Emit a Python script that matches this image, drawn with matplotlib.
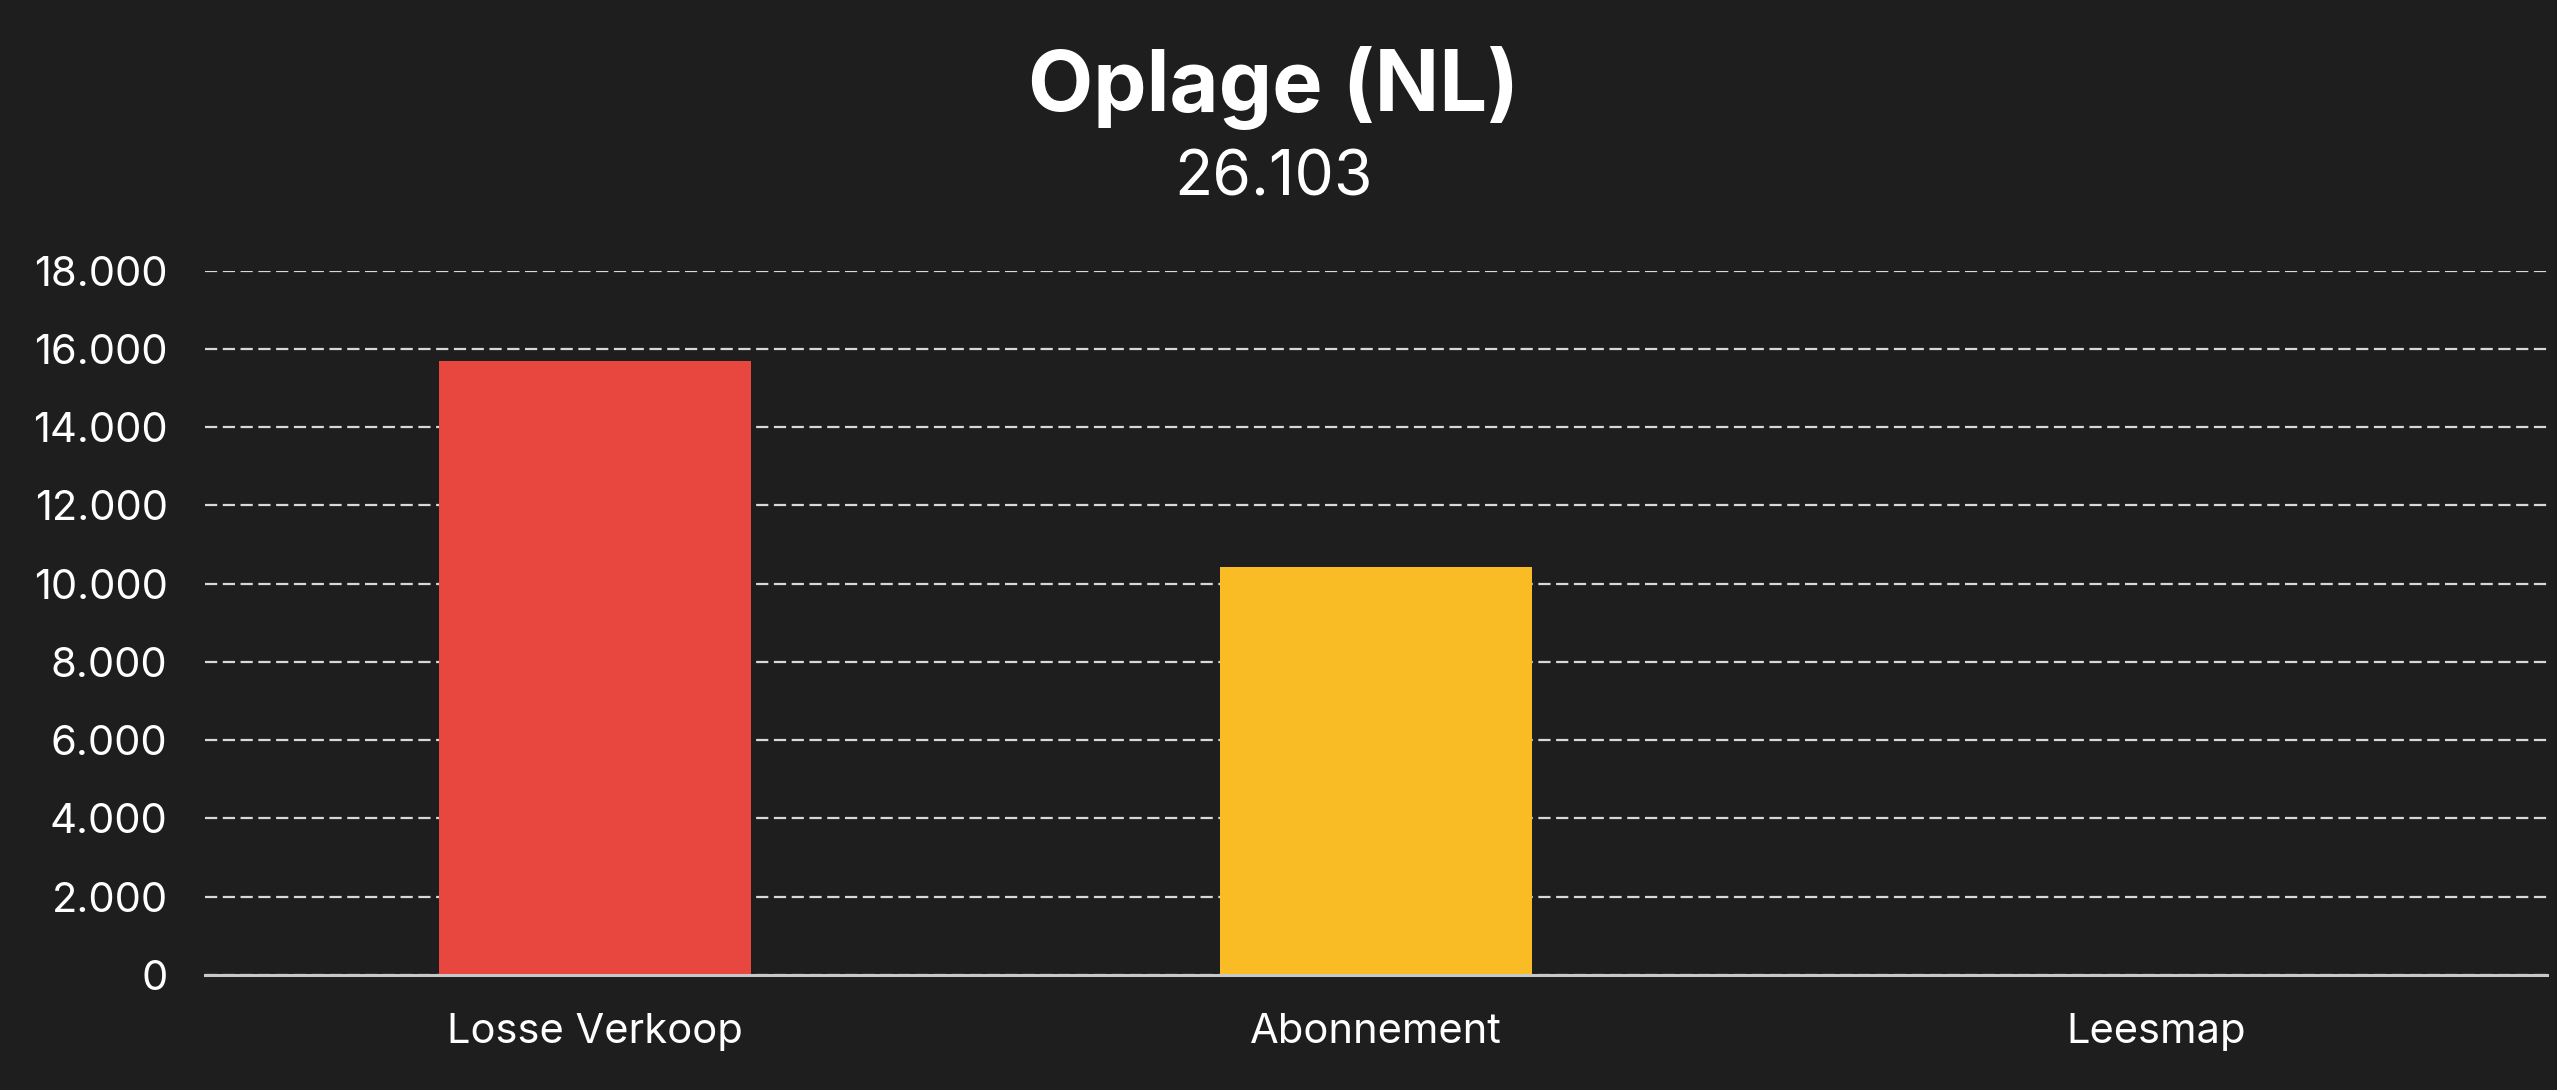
import matplotlib
matplotlib.use("Agg")
import matplotlib.pyplot as plt
from matplotlib.ticker import FuncFormatter

categories = ["Losse Verkoop", "Abonnement", "Leesmap"]
values = [15683, 10420, 0]
colors = ["#e8473f", "#fabc24", "#888888"]
title = "Oplage (NL)"
subtitle = "26.103"
yticks = [0, 2000, 4000, 6000, 8000, 10000, 12000, 14000, 16000, 18000]

BG = "#1e1e1e"
plt.rcParams['font.family'] = ['Inter', 'DejaVu Sans']

fig = plt.figure(figsize=(25.57, 10.9), dpi=100, facecolor=BG)
ax = fig.add_axes([0.0802, 0.1055, 0.9158, 0.6462], facecolor=BG)

x = list(range(len(categories)))
ax.bar(x, values, width=0.4, color=colors, linewidth=0, zorder=3)

ax.set_xlim(-0.5, 2.5)
ax.set_ylim(0, 18000)
ax.set_yticks(yticks)
ax.yaxis.set_major_formatter(FuncFormatter(lambda v, p: f"{int(v):,}".replace(",", ".")))
ax.set_xticks(x)
ax.set_xticklabels(categories)

ax.grid(axis='y', color="#d8d8d8", linewidth=1.6, linestyle=(0, (5.5, 2.5)), zorder=1)
ax.grid(axis='x', visible=False)
for s in ["top", "right", "left"]:
    ax.spines[s].set_visible(False)
ax.spines["bottom"].set_color("#c8c8c8")
ax.spines["bottom"].set_linewidth(2.2)
ax.spines["bottom"].set_zorder(4)

ax.tick_params(axis='both', length=0, colors="white", labelsize=30)
ax.tick_params(axis='y', pad=27)
ax.tick_params(axis='x', pad=27)

fig.text(0.498, 0.919, title, ha='center', va='center', color='white', fontsize=61, fontweight='bold')
fig.text(0.498, 0.836, subtitle, ha='center', va='center', color='white', fontsize=45)

fig.savefig("out.png", dpi=100, facecolor=BG)
